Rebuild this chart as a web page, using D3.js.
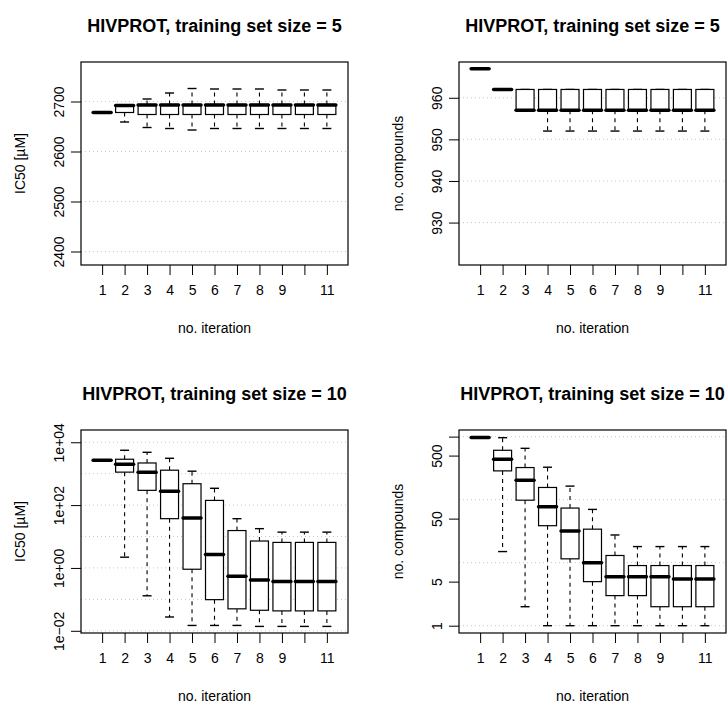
<!DOCTYPE html>
<html>
<head>
<meta charset="utf-8">
<script src="https://cdn.jsdelivr.net/npm/d3@7"></script>
<style>
  body { margin: 0; background: #fff; }
  svg { display: block; font-family: "Liberation Sans", Arial, Helvetica, sans-serif; }
</style>
</head>
<body>
<div id="chart"></div>
<script>
// iterations on the x axis
const iterations = [1, 2, 3, 4, 5, 6, 7, 8, 9, 10, 11];
const iterLabels = ["1", "2", "3", "4", "5", "6", "7", "8", "9", "", "11"];

// box stats per iteration: [min, q1, median, q3, max]
const ic50Size5 = [
  [2678, 2678, 2678, 2678, 2678],
  [2659, 2678, 2692, 2692, 2692],
  [2648, 2674, 2693, 2694, 2705],
  [2646, 2674, 2693, 2694, 2717],
  [2643, 2674, 2693, 2694, 2726],
  [2646, 2674, 2693, 2694, 2725],
  [2646, 2674, 2693, 2694, 2725],
  [2646, 2674, 2693, 2694, 2725],
  [2646, 2674, 2693, 2694, 2723],
  [2646, 2674, 2693, 2694, 2723],
  [2646, 2674, 2693, 2694, 2723]
];
const compoundsSize5 = [
  [967, 967, 967, 967, 967],
  [962, 962, 962, 962, 962],
  [957, 957, 957, 962, 962],
  [952, 957, 957, 962, 962],
  [952, 957, 957, 962, 962],
  [952, 957, 957, 962, 962],
  [952, 957, 957, 962, 962],
  [952, 957, 957, 962, 962],
  [952, 957, 957, 962, 962],
  [952, 957, 957, 962, 962],
  [952, 957, 957, 962, 962]
];
const ic50Size10 = [
  [2680, 2680, 2680, 2680, 2680],
  [2.2, 1120, 2000, 2880, 5560],
  [0.13, 295, 1120, 2190, 4790],
  [0.0275, 37, 275, 1290, 3090],
  [0.0148, 0.91, 39, 479, 1200],
  [0.0148, 0.098, 2.7, 141, 343],
  [0.0148, 0.05, 0.54, 15.5, 37],
  [0.0138, 0.045, 0.41, 7.2, 17.8],
  [0.0138, 0.043, 0.37, 6.5, 13.8],
  [0.0138, 0.043, 0.37, 6.5, 13.8],
  [0.0138, 0.043, 0.37, 6.5, 13.8]
];
const compoundsSize10 = [
  [967, 967, 967, 967, 967],
  [15, 286, 437, 607, 962],
  [2, 98, 204, 323, 652],
  [1, 38.6, 77, 156, 327],
  [1, 11.5, 31.8, 73.5, 164],
  [1, 5, 10, 34, 70],
  [1, 3, 6, 13, 27.5],
  [1, 3, 6, 9, 18],
  [1, 2, 6, 9, 18],
  [1, 2, 5.5, 9, 18],
  [1, 2, 5.5, 9, 18]
];

// axis ticks
const ticksIc50Lin = [2400, 2500, 2600, 2700];
const ticksCompLin = [930, 940, 950, 960];
const ticksIc50Log = [1e-2, 1, 1e2, 1e4];
const labelsIc50Log = ["1e\u221202", "1e+00", "1e+02", "1e+04"];
const gridIc50Log = [1e-2, 1e-1, 1, 10, 100, 1e3, 1e4];
const ticksCompLog = [1, 5, 50, 500, 1000];
const labelsCompLog = ["1", "5", "50", "500", ""];
const gridCompLog = [1, 10, 100, 1000];

const titles = [
  "HIVPROT, training set size = 5",
  "HIVPROT, training set size = 5",
  "HIVPROT, training set size = 10",
  "HIVPROT, training set size = 10"
];

const width = 728, height = 706;
const plotW = 267, plotH = 203;

const svg = d3.select("#chart").append("svg")
  .attr("width", width)
  .attr("height", height);

const panels = [
  { left: 81, top: 62, stats: ic50Size5, log: false, domain: [2373, 2779],
    ticks: ticksIc50Lin, labels: ticksIc50Lin.map(String), grid: ticksIc50Lin,
    ylab: "IC50 [\u00b5M]", title: titles[0] },
  { left: 459, top: 62, stats: compoundsSize5, log: false, domain: [919.8, 968.6],
    ticks: ticksCompLin, labels: ticksCompLin.map(String), grid: ticksCompLin,
    ylab: "no. compounds", title: titles[1] },
  { left: 81, top: 430, stats: ic50Size10, log: true, domain: [Math.pow(10, -2.07), Math.pow(10, 4.39)],
    ticks: ticksIc50Log, labels: labelsIc50Log, grid: gridIc50Log,
    ylab: "IC50 [\u00b5M]", title: titles[2] },
  { left: 459, top: 430, stats: compoundsSize10, log: true, domain: [Math.pow(10, -0.116), Math.pow(10, 3.105)],
    ticks: ticksCompLog, labels: labelsCompLog, grid: gridCompLog,
    ylab: "no. compounds", title: titles[3] }
];

function drawPanel(p) {
  const g = svg.append("g");
  const x = d3.scaleLinear().domain([0.06, 11.94]).range([p.left, p.left + plotW]);
  const y = (p.log ? d3.scaleLog() : d3.scaleLinear())
    .domain(p.domain).range([p.top + plotH, p.top]);

  // dotted grid
  g.append("g").selectAll("line")
    .data(p.grid)
    .enter().append("line")
    .attr("x1", p.left).attr("x2", p.left + plotW)
    .attr("y1", d => y(d)).attr("y2", d => y(d))
    .attr("stroke", "#c8c8c8")
    .attr("stroke-width", 1)
    .attr("stroke-dasharray", "1,3");

  // x axis
  const xAxis = d3.axisBottom(x)
    .tickValues(iterations)
    .tickFormat((d, i) => iterLabels[i])
    .tickSize(10).tickPadding(10);
  const xa = g.append("g")
    .attr("transform", `translate(0,${p.top + plotH})`)
    .call(xAxis);
  xa.select(".domain").remove();
  xa.selectAll("text").attr("font-size", 14).attr("fill", "#000");
  xa.selectAll("line").attr("stroke", "#000");

  // y axis
  const ya = g.append("g")
    .attr("transform", `translate(${p.left},0)`)
    .call(d3.axisLeft(y).tickValues(p.ticks).tickFormat((d, i) => p.labels[i]).tickSize(10));
  ya.select(".domain").remove();
  ya.selectAll("line").attr("stroke", "#000");
  ya.selectAll("text")
    .attr("font-size", 14).attr("fill", "#000")
    .attr("x", null).attr("dy", null)
    .attr("text-anchor", "middle")
    .attr("transform", "translate(-17,0) rotate(-90)");

  // boxes
  const bw = 0.8 * (x(2) - x(1));
  const boxes = g.append("g").selectAll("g")
    .data(p.stats)
    .enter().append("g");

  // dashed whiskers
  boxes.append("line")
    .attr("x1", (d, i) => x(iterations[i])).attr("x2", (d, i) => x(iterations[i]))
    .attr("y1", d => y(d[3])).attr("y2", d => y(d[4]))
    .attr("stroke", "#000").attr("stroke-width", 1.1).attr("stroke-dasharray", "4,4");
  boxes.append("line")
    .attr("x1", (d, i) => x(iterations[i])).attr("x2", (d, i) => x(iterations[i]))
    .attr("y1", d => y(d[1])).attr("y2", d => y(d[0]))
    .attr("stroke", "#000").attr("stroke-width", 1.1).attr("stroke-dasharray", "4,4");

  // staples
  [0, 4].forEach(k => {
    boxes.append("line")
      .attr("x1", (d, i) => x(iterations[i]) - bw / 4)
      .attr("x2", (d, i) => x(iterations[i]) + bw / 4)
      .attr("y1", d => y(d[k])).attr("y2", d => y(d[k]))
      .attr("stroke", "#000").attr("stroke-width", 1.4);
  });

  boxes.append("rect")
    .attr("x", (d, i) => x(iterations[i]) - bw / 2)
    .attr("width", bw)
    .attr("y", d => y(d[3]))
    .attr("height", d => y(d[1]) - y(d[3]))
    .attr("fill", "#fff")
    .attr("stroke", "#000").attr("stroke-width", 1.2);

  boxes.append("line")
    .attr("x1", (d, i) => x(iterations[i]) - bw / 2)
    .attr("x2", (d, i) => x(iterations[i]) + bw / 2)
    .attr("y1", d => y(d[2])).attr("y2", d => y(d[2]))
    .attr("stroke", "#000").attr("stroke-width", 3.5)
    .attr("stroke-linecap", "round");

  // frame
  g.append("rect")
    .attr("x", p.left).attr("y", p.top)
    .attr("width", plotW).attr("height", plotH)
    .attr("fill", "none").attr("stroke", "#000").attr("stroke-width", 1.2);

  // labels
  g.append("text")
    .attr("x", p.left + plotW / 2).attr("y", p.top - 30)
    .attr("text-anchor", "middle")
    .attr("font-size", 18).attr("font-weight", "bold")
    .text(p.title);

  g.append("text")
    .attr("x", p.left + plotW / 2).attr("y", p.top + plotH + 68)
    .attr("text-anchor", "middle")
    .attr("font-size", 14)
    .text("no. iteration");

  g.append("text")
    .attr("transform", `translate(${p.left - 56},${p.top + plotH / 2}) rotate(-90)`)
    .attr("text-anchor", "middle")
    .attr("font-size", 14)
    .text(p.ylab);
}

panels.forEach(drawPanel);
</script>
</body>
</html>
